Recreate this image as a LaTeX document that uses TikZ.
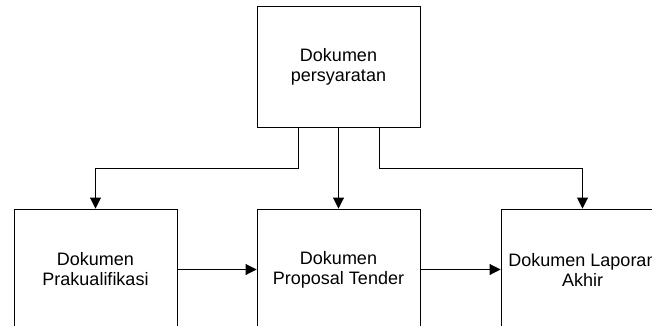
\documentclass[tikz,border=0pt]{standalone}
\usepackage{fontspec}
\setmainfont{Liberation Sans}
\usetikzlibrary{arrows.meta,calc}
\begin{document}
\begin{tikzpicture}[x=1pt,y=-1pt,
  docbox/.style={draw,line width=0.9pt,minimum width=163pt,minimum height=121pt,
    inner sep=0pt,align=center,font=\fontsize{18}{20}\selectfont},
  flow/.style={line width=0.9pt,-{Triangle[length=11pt,width=11pt]}}]
  \useasboundingbox (0,0) rectangle (652,326);
  \clip (0,0) rectangle (652,326);
  % boxes
  \node[docbox] (syarat) at (338.5,66.5) {Dokumen\\persyaratan};
  \node[docbox] (prakual) at (95.5,269.5) {Dokumen\\Prakualifikasi};
  \node[docbox] (proposal) at (338.5,269.5) {Dokumen\\Proposal Tender};
  \node[docbox] (laporan) at (582.5,269.5) {Dokumen Laporan\\Akhir};
  % branches from the requirements document
  \draw[flow] ($(syarat.south)+(-40.5,0)$) -- ++(0,41) -| (prakual.north);
  \draw[flow] (syarat.south) -- (proposal.north);
  \draw[flow] ($(syarat.south)+(40.5,0)$) -- ++(0,41) -| (laporan.north);
  % sequence along the bottom row
  \draw[flow] (prakual.east) -- (proposal.west);
  \draw[flow] (proposal.east) -- (laporan.west);
\end{tikzpicture}
\end{document}
